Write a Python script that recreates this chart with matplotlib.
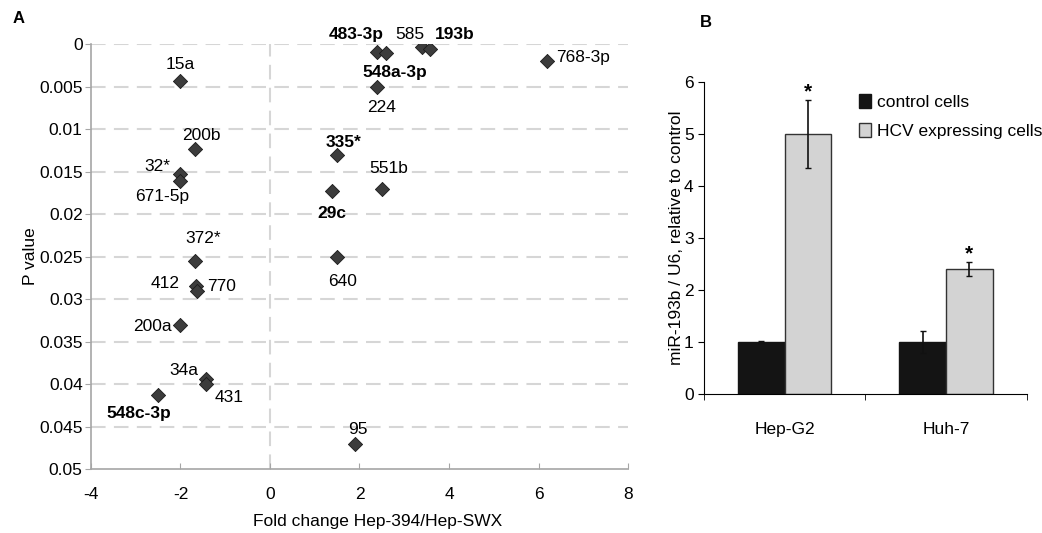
import matplotlib
matplotlib.use("Agg")
import matplotlib.pyplot as plt
from matplotlib.ticker import FuncFormatter

plt.rcParams['font.family'] = ['Liberation Sans', 'DejaVu Sans']
plt.rcParams['axes.unicode_minus'] = False

# panel A: miRNA fold change vs p value
mirnas = ["15a", "200b", "32*", "671-5p", "335*", "29c", "372*", "640", "412", "770",
          "200a", "34a", "431", "548c-3p", "95", "483-3p", "548a-3p", "585", "193b",
          "768-3p", "224", "551b"]
fold = [-2.01, -1.68, -2.01, -2.01, 1.49, 1.39, -1.68, 1.49, -1.66, -1.64,
        -2.01, -1.44, -1.44, -2.50, 1.89, 2.40, 2.59, 3.39, 3.58,
        6.19, 2.40, 2.50]
pval = [0.0043, 0.0123, 0.0153, 0.0161, 0.0131, 0.0173, 0.0255, 0.0251, 0.0285, 0.0291,
        0.0330, 0.0394, 0.0400, 0.0413, 0.0471, 0.0009, 0.0010, 0.0004, 0.0006,
        0.0020, 0.0050, 0.0171]
bold_mirnas = ["483-3p", "193b", "548a-3p", "335*", "29c", "548c-3p"]

# label offsets (pixels)
offsets = {"15a": (0, 16), "200b": (7, 13), "32*": (-23, 8), "671-5p": (-18, -16),
           "335*": (7, 13), "29c": (0, -22), "372*": (8, 22), "640": (6, -24),
           "412": (-31, 3), "770": (25, 5), "200a": (-28, -2), "34a": (-22, 8),
           "431": (24, -13), "548c-3p": (-19, -18), "95": (3, 15), "483-3p": (-21, 17),
           "548a-3p": (9, -20), "585": (-12, 13), "193b": (25, 15), "768-3p": (36, 4),
           "224": (4, -21), "551b": (7, 21)}

# panel B: bar chart
cell_lines = ["Hep-G2", "Huh-7"]
control = [1.0, 1.0]
control_err = [0.01, 0.22]
hcv = [5.0, 2.4]
hcv_err = [0.65, 0.135]

fs = 12.5
fig = plt.figure(figsize=(10.42, 5.33), dpi=100)

gridc = "#d6d6d6"
spinec = "#a6a6a6"

ax = fig.add_axes([0.0873, 0.12, 0.5154, 0.7974])
for yv in [0.005 * i for i in range(1, 10)] + [0.0]:
    ax.axhline(yv, color=gridc, lw=1.5, ls=(0, (7, 4)), zorder=0)
ax.axvline(0, color=gridc, lw=1.5, ls=(0, (7, 4)), zorder=0)
ax.scatter(fold, pval, marker="D", s=52, color="#3c3c3c", edgecolor="#1a1a1a",
           linewidths=0.6, zorder=3)
for name, x, y in zip(mirnas, fold, pval):
    ax.annotate(name, (x, y), xytext=offsets[name], textcoords="offset pixels",
                ha="center", va="center", fontsize=fs,
                fontweight="bold" if name in bold_mirnas else "normal")
ax.set_xlim(-4, 8)
ax.set_ylim(0.05, 0)
ax.set_xticks(range(-4, 9, 2))
ax.set_yticks([0.005 * i for i in range(11)])
ax.yaxis.set_major_formatter(FuncFormatter(lambda v, p: "{:g}".format(round(v, 4))))
for s in ["top", "right"]:
    ax.spines[s].set_visible(False)
for s in ["left", "bottom"]:
    ax.spines[s].set_color(spinec)
    ax.spines[s].set_linewidth(1.2)
ax.tick_params(axis="y", direction="out", length=4, color=spinec, labelsize=fs, pad=2)
ax.tick_params(axis="x", direction="in", length=4, color=spinec, labelsize=fs, pad=13)
ax.set_xlabel("Fold change Hep-394/Hep-SWX", fontsize=fs)
ax.xaxis.set_label_coords(0.534, -0.105)
ax.set_ylabel("P value", fontsize=fs, labelpad=1)
fig.text(0.012, 0.965, "A", fontsize=12, fontweight="bold", va="center")

# panel B
bx = fig.add_axes([0.6756, 0.2608, 0.3097, 0.5854])
xs = range(len(cell_lines))
w = 0.29
bx.bar([x - w / 2 for x in xs], control, w, color="#141414", edgecolor="#141414",
       yerr=control_err, capsize=2, error_kw=dict(ecolor="#111", elinewidth=1.2),
       label="control cells")
bx.bar([x + w / 2 for x in xs], hcv, w, color="#d3d3d3", edgecolor="#333333", lw=1.0,
       yerr=hcv_err, capsize=2, error_kw=dict(ecolor="#111", elinewidth=1.2),
       label="HCV expressing cells")
for x, v, e in zip(xs, hcv, hcv_err):
    bx.text(x + w / 2, v + e - 0.02, "*", ha="center", va="bottom", fontsize=15,
            fontweight="bold")
bx.set_xlim(-0.5, 1.5)
bx.set_ylim(0, 6)
bx.set_xticks(list(xs))
bx.set_xticklabels(cell_lines)
bx.set_xticks([-0.5, 0.5, 1.5], minor=True)
bx.tick_params(axis="x", which="major", length=0, labelsize=fs, pad=20)
bx.tick_params(axis="x", which="minor", length=4, direction="out")
bx.tick_params(axis="y", labelsize=fs, length=4)
for s in ["top", "right"]:
    bx.spines[s].set_visible(False)
bx.set_ylabel("miR-193b / U6, relative to control", fontsize=fs, labelpad=0)
bx.legend(loc="upper left", bbox_to_anchor=(0.46, 0.985), frameon=False, fontsize=fs,
          handlelength=0.65, handleheight=0.9, handletextpad=0.35, labelspacing=0.75,
          borderaxespad=0)
fig.text(0.672, 0.958, "B", fontsize=12, fontweight="bold", va="center")

fig.savefig("out.png", dpi=100)
